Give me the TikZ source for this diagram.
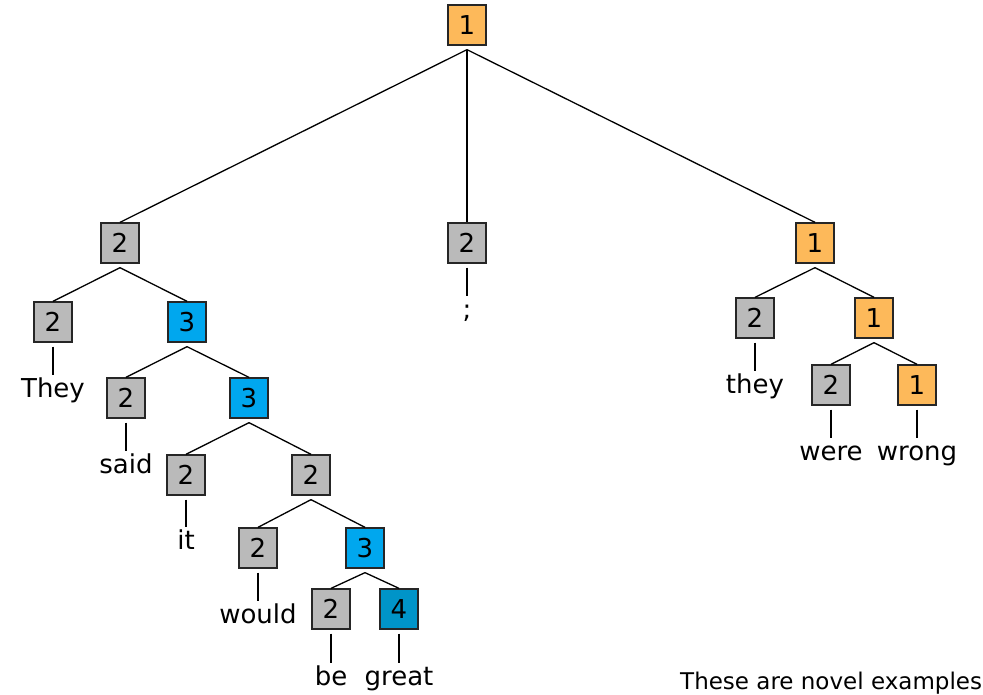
\documentclass[tikz,border=0pt]{standalone}
\usepackage{fontspec}
\setmainfont{DejaVu Sans}
\definecolor{sentpos}{RGB}{253,185,90}
\definecolor{sentneu}{RGB}{186,186,186}
\definecolor{sentneg}{RGB}{0,167,238}
\definecolor{sentvneg}{RGB}{0,148,200}
\begin{document}
\begin{tikzpicture}[x=1pt,y=-1pt,
  tbox/.style={draw=black!85, line width=1.3pt, minimum width=38pt,
    minimum height=40pt, inner sep=0pt, font=\fontsize{26}{28}\selectfont},
  spos/.style={tbox, fill=sentpos},
  sneu/.style={tbox, fill=sentneu},
  sneg/.style={tbox, fill=sentneg},
  svneg/.style={tbox, fill=sentvneg},
  word/.style={anchor=base, inner sep=0pt, text height=22pt,
    font=\fontsize{26}{28}\selectfont},
  branch/.style={line width=1.3pt, black}]
\useasboundingbox (0,0) rectangle (983,695);

% internal nodes
\node[spos]  (r)    at (467,25)  {1};
\node[sneu]  (a)    at (120,243) {2};
\node[sneu]  (b)    at (467,243) {2};
\node[spos]  (c)    at (815,243) {1};
\node[sneu]  (a1)   at (53,322)  {2};
\node[sneg]  (a2)   at (187,322) {3};
\node[sneu]  (a21)  at (126,398) {2};
\node[sneg]  (a22)  at (249,398) {3};
\node[sneu]  (a221) at (186,475) {2};
\node[sneu]  (a222) at (311,475) {2};
\node[sneu]  (a2221) at (258,548) {2};
\node[sneg]  (a2222) at (365,548) {3};
\node[sneu]  (be)   at (331,609) {2};
\node[svneg] (gr)   at (399,609) {4};
\node[sneu]  (c1)   at (755,318) {2};
\node[spos]  (c2)   at (874,318) {1};
\node[sneu]  (c21)  at (831,385) {2};
\node[spos]  (c22)  at (917,385) {1};

% words
\node[word] (wThey)  at (53,397)  {They};
\node[word] (wsaid)  at (126,473) {said};
\node[word] (wit)    at (186,549) {it};
\node[word] (wwould) at (258,623) {would};
\node[word] (wbe)    at (331,685) {be};
\node[word] (wgreat) at (399,685) {great};
\node[word] (wsemi)  at (467,318) {;};
\node[word] (wthey)  at (755,393) {they};
\node[word] (wwere)  at (831,460) {were};
\node[word] (wwrong) at (917,460) {wrong};

% branches
\foreach \p/\q in {r/a, r/b, r/c, a/a1, a/a2, a2/a21, a2/a22, a22/a221,
    a22/a222, a222/a2221, a222/a2222, a2222/be, a2222/gr, c/c1, c/c2,
    c2/c21, c2/c22}
  \draw[branch] ([yshift=-4pt]\p.south) -- (\q.north);

% leaves
\foreach \p/\q in {a1/wThey, a21/wsaid, a221/wit, a2221/wwould, be/wbe,
    gr/wgreat, b/wsemi, c1/wthey, c21/wwere, c22/wwrong}
  \draw[branch] ([yshift=-4pt]\p.south) -- (\q.north);

\node[anchor=base west, inner sep=0pt, font=\fontsize{23}{25}\selectfont]
  (cap) at (680,689) {These are novel examples};
\end{tikzpicture}
\end{document}
